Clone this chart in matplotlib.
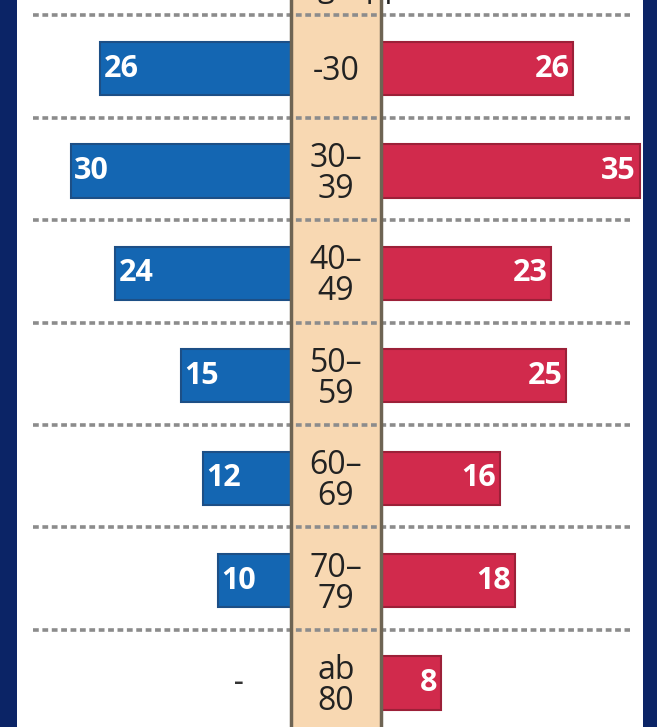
import matplotlib.pyplot as plt

# Data
age_groups = ["-30", "30–\n39", "40–\n49", "50–\n59", "60–\n69", "70–\n79", "ab\n80"]
blue_values = [26, 30, 24, 15, 12, 10, None]
red_values = [26, 35, 23, 25, 16, 18, 8]

if __name__ == "__main__":
    fig = plt.figure(figsize=(6.57, 7.27), dpi=100)
    fig.patch.set_facecolor("#0b2466")

    # white panel between the dark blue side strips
    ax = fig.add_axes([17 / 657, 0, (643 - 17) / 657, 1])
    ax.set_facecolor("white")

    half = 6.1  # half width of the centre column (data units)
    n = len(age_groups)

    # centre column
    ax.axvspan(-half, half, color="#f8d8b2", zorder=1)
    ax.axvline(-half, color="#6e6453", lw=2.5, zorder=4)
    ax.axvline(half, color="#6e6453", lw=2.5, zorder=4)

    # dotted separators
    for i in range(n):
        ax.plot([-41.2, 40.0], [i - 0.52, i - 0.52], color="#8c8c8c", lw=2.6,
                linestyle=(0, (1.6, 1.0)), zorder=3)

    # bars
    bh = 0.52
    for i, v in enumerate(blue_values):
        if v is None:
            ax.text(-13.2, i, "–", ha="center", va="center", fontsize=14,
                    color="#333333", fontweight="bold", zorder=5)
            continue
        ax.barh(i, -v, left=-half, height=bh, color="#1466b2",
                edgecolor="#1d4f86", lw=1.5, zorder=2)
        ax.text(-half - v + 0.5, i, str(v), ha="left", va="center",
                fontsize=22, fontweight="bold", color="white",
                family="Open Sans", zorder=5)

    for i, v in enumerate(red_values):
        ax.barh(i, v, left=half + 0.2, height=bh, color="#d12a4c",
                edgecolor="#9c2038", lw=1.5, zorder=2)
        ax.text(half + 0.2 + v - 0.5, i, str(v), ha="right", va="center",
                fontsize=22, fontweight="bold", color="white",
                family="Open Sans", zorder=5)

    # age labels
    for i, lab in enumerate(age_groups):
        ax.text(0, i + 0.03, lab, ha="center", va="center", fontsize=23,
                color="#222222", linespacing=0.92, family="Open Sans",
                fontweight="medium", zorder=5)

    ax.set_xlim(-43.4, 41.77)
    ax.set_ylim(6.43, -0.67)
    ax.set_xticks([])
    ax.set_yticks([])
    for s in ax.spines.values():
        s.set_visible(False)

    # heading, mostly cut off at the top edge (as in the reference)
    fig.text(0.5, 1.004, "Altersgruppe", ha="center", va="baseline",
             fontsize=22, color="#222222", family="Open Sans")

    fig.savefig("out.png", dpi=100, facecolor=fig.get_facecolor())
